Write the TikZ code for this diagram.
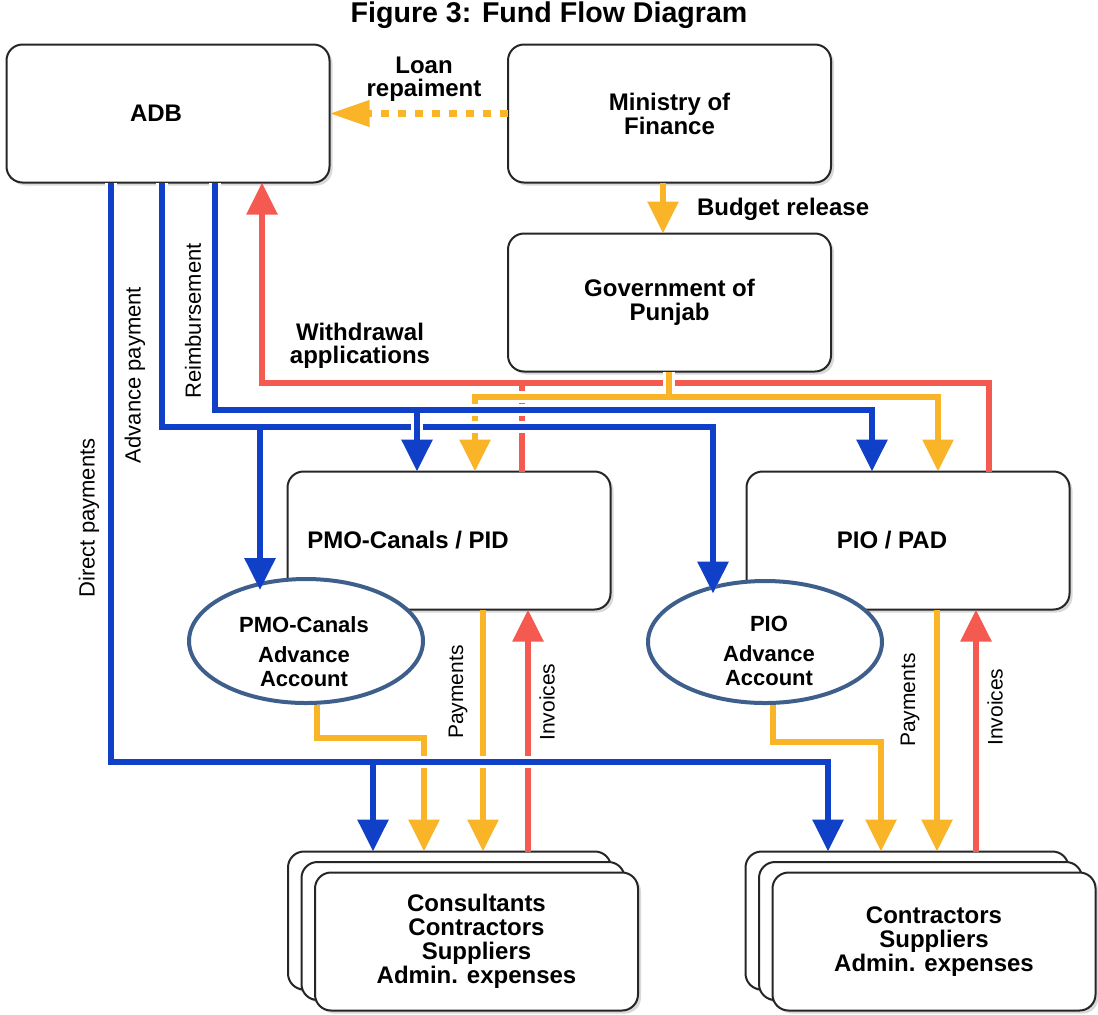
\documentclass[tikz,border=0pt]{standalone}
\usepackage{fontspec}
\setmainfont{Liberation Sans}
\usetikzlibrary{arrows.meta, shapes.geometric, shadows, positioning, calc}
\definecolor{flowblue}{RGB}{16,64,200}
\definecolor{flowyellow}{RGB}{250,180,40}
\definecolor{flowred}{RGB}{245,90,80}
\definecolor{acctblue}{RGB}{62,95,140}
\tikzset{
  box/.style={draw=black!85, line width=1pt, fill=white, rounded corners=8pt,
    minimum width=161.5pt, minimum height=69pt, inner sep=0pt, outer sep=0pt,
    align=center, font=\bfseries\fontsize{12}{12}\selectfont,
    drop shadow={shadow xshift=1.5pt, shadow yshift=-1.5pt, opacity=.3}},
  acct/.style={ellipse, draw=acctblue, line width=2pt, fill=white,
    minimum width=117pt, minimum height=62pt, inner sep=0pt},
  accttxt/.style={align=center, font=\bfseries\fontsize{11}{12}\selectfont},
  lbl/.style={align=center, font=\bfseries\fontsize{12}{11.5}\selectfont},
  sidelbl/.style={rotate=90, font=\fontsize{11}{13}\selectfont},
  flowline/.style={line width=3pt},
  flowtip/.style={-{Triangle[width=15pt,length=16pt]}},
  halo/.style={preaction={draw=white, line width=6pt}},
  loanline/.style={line width=3.5pt, flowyellow, dash pattern=on 4pt off 4.5pt,
    -{Triangle[width=12.5pt,length=20pt]}},
}

\begin{document}
\begin{tikzpicture}[x=0.5pt, y=-0.5pt]
\useasboundingbox (0,0) rectangle (1098,1014);

\node[font=\bfseries\fontsize{14.3}{16}\selectfont] (title) at (549,15) {Figure 3: Fund Flow Diagram};

% boxes
\node[box] (adb) at (168,113.5) {\hspace*{-12pt}ADB};
\node[box] (mof) at (669.5,113.5) {Ministry of\\Finance};
\node[box] (gop) at (669.5,302.5) {Government of\\Punjab};
\node[box] (pid) at (449,540.5) {\hspace*{-41pt}PMO-Canals / PID};
\node[box] (pad) at (908,540.5) {\hspace*{-16pt}PIO / PAD};

\node[box] (conLb) at (449.5,920.5) {};
\node[box] (conLm) at (463,931) {};
\node[box] (conL) at (476.5,941.5) {Consultants\\Contractors\\Suppliers\\Admin. expenses};
\node[box] (conRb) at (907,920.5) {};
\node[box] (conRm) at (920.5,931) {};
\node[box] (conR) at (934,941.5) {Contractors\\Suppliers\\Admin. expenses};

% advance accounts
\node[acct] (pmoacc) at (306,641) {};
\node[accttxt] (pmoacctxt) at (304,652) {PMO-Canals\\[3pt]Advance\\Account};
\node[acct, minimum height=61pt] (pioacc) at (765,642) {};
\node[accttxt] (pioacctxt) at (769,651) {PIO\\[3pt]Advance\\Account};

% red
\draw[flowline, flowred, flowtip] (989,0 |- pad.north) |- (262,383) -- (262,0 |- adb.south);
\draw[flowline, flowred] (522,0 |- pid.north) -- (522,383);
\draw[flowline, flowred, flowtip] (528,0 |- conLb.north) -- (528,0 |- pid.south);
\draw[flowline, flowred, flowtip] (976,0 |- conRb.north) -- (976,0 |- pad.south);

% yellow
\draw[loanline] (mof.west) -- (adb.east);
\draw[flowline, flowyellow, flowtip] (663,0 |- mof.south) -- (663,0 |- gop.north);
\draw[flowline, flowyellow, halo, flowtip] (669,0 |- gop.south) |- (475,397) -- (475,0 |- pid.north);
\draw[flowline, flowyellow, flowtip] (669,397) -| (938,0 |- pad.north);
\draw[flowline, flowyellow, flowtip] (317,0 |- pmoacc.south) |- (424,738) -- (424,0 |- conLb.north);
\draw[flowline, flowyellow, flowtip] (483,0 |- pid.south) -- (483,0 |- conLb.north);
\draw[flowline, flowyellow, flowtip] (773,0 |- pioacc.south) |- (881,742) -- (881,0 |- conRb.north);
\draw[flowline, flowyellow, flowtip] (937,0 |- pad.south) -- (937,0 |- conRb.north);

% blue
\draw[flowline, flowblue, halo, flowtip] (111,0 |- adb.south) |- (828,762) -- (828,0 |- conRb.north);
\draw[flowline, flowblue, flowtip] (373,762) -- (373,0 |- conLb.north);
\draw[flowline, flowblue, halo, flowtip, shorten >=-4pt] (162,0 |- adb.south) |- (713,427) -- (713,0 |- pioacc.133);
\draw[flowline, flowblue, flowtip, shorten >=-4pt] (260,427) -- (260,0 |- pmoacc.128);
\draw[flowline, flowblue, halo, flowtip] (215,0 |- adb.south) |- (872,410) -- (872,0 |- pad.north);
\draw[flowline, flowblue, flowtip, preaction={draw=white, line width=6pt, shorten <=4pt}] (417,410) -- (417,0 |- pid.north);

% labels
\node[lbl] (loan) at (424,79) {Loan\\repaiment};
\node[lbl, anchor=west] (budget) at (690,209) {Budget release};
\node[lbl] (withdraw) at (360,346) {Withdrawal\\applications};
\node[sidelbl] (direct) at (89,518) {Direct payments};
\node[sidelbl] (advance) at (135,375) {Advance payment};
\node[sidelbl] (reimb) at (193,321) {Reimbursement};
\node[sidelbl, font=\fontsize{10.5}{12}\selectfont] (payL) at (458,692) {Payments};
\node[sidelbl, font=\fontsize{10.5}{12}\selectfont] (invL) at (547,702) {Invoices};
\node[sidelbl, font=\fontsize{10.5}{12}\selectfont] (payR) at (910,700) {Payments};
\node[sidelbl, font=\fontsize{10.5}{12}\selectfont] (invR) at (995,707) {Invoices};

\end{tikzpicture}
\end{document}
